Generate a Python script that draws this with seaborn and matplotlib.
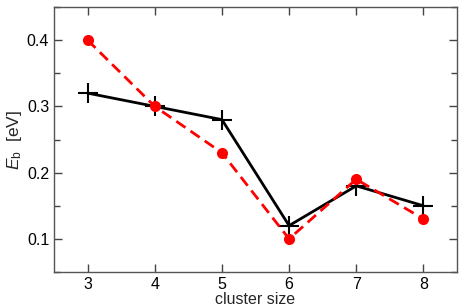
import seaborn as sns
import matplotlib.pyplot as plt
import pandas as pd
from matplotlib.ticker import MultipleLocator

cluster_size = [3, 4, 5, 6, 7, 8]
eb_red = [0.40, 0.30, 0.23, 0.10, 0.19, 0.13]
eb_black = [0.32, 0.30, 0.28, 0.12, 0.18, 0.15]

sns.set_theme(style="ticks")
plt.rcParams["font.family"] = ["Liberation Sans", "DejaVu Sans"]
plt.rcParams["mathtext.fontset"] = "custom"
plt.rcParams["mathtext.it"] = "Liberation Sans:italic"
plt.rcParams["mathtext.rm"] = "Liberation Sans"

df = pd.DataFrame({"size": cluster_size, "red": eb_red, "black": eb_black})

fig = plt.figure(figsize=(4.63, 3.06), dpi=100)
ax = fig.add_axes([54 / 463, 1 - 272 / 306, (457 - 54) / 463, (272 - 7) / 306])

sns.lineplot(data=df, x="size", y="black", ax=ax, color="black", lw=2,
             marker="+", markersize=14, markeredgewidth=1.5,
             markeredgecolor="black")
sns.lineplot(data=df, x="size", y="red", ax=ax, color="red", lw=2,
             linestyle=(0, (4, 2.2)), marker="o", markersize=8,
             markeredgewidth=0, markeredgecolor="red")

ax.set_xlim(2.5, 8.5)
ax.set_ylim(0.05, 0.45)
ax.xaxis.set_major_locator(MultipleLocator(1))
ax.yaxis.set_major_locator(MultipleLocator(0.1))
ax.yaxis.set_minor_locator(MultipleLocator(0.05))
ax.tick_params(which="both", direction="in", top=True, right=True,
               labelsize=11.5, color="#444444", width=1, labelcolor="black")
ax.tick_params(which="major", length=6, pad=3.5)
ax.tick_params(which="minor", length=4)
ax.set_xticks(cluster_size)
ax.set_yticks([0.1, 0.2, 0.3, 0.4])
for s in ax.spines.values():
    s.set_color("#555555")
    s.set_linewidth(1)

ax.set_xlabel("cluster size", fontsize=11.5, labelpad=0)
ax.set_ylabel(r"$E_{\mathrm{b}}$  [eV]", fontsize=12.5, labelpad=2)

fig.savefig("out.png", dpi=100)
